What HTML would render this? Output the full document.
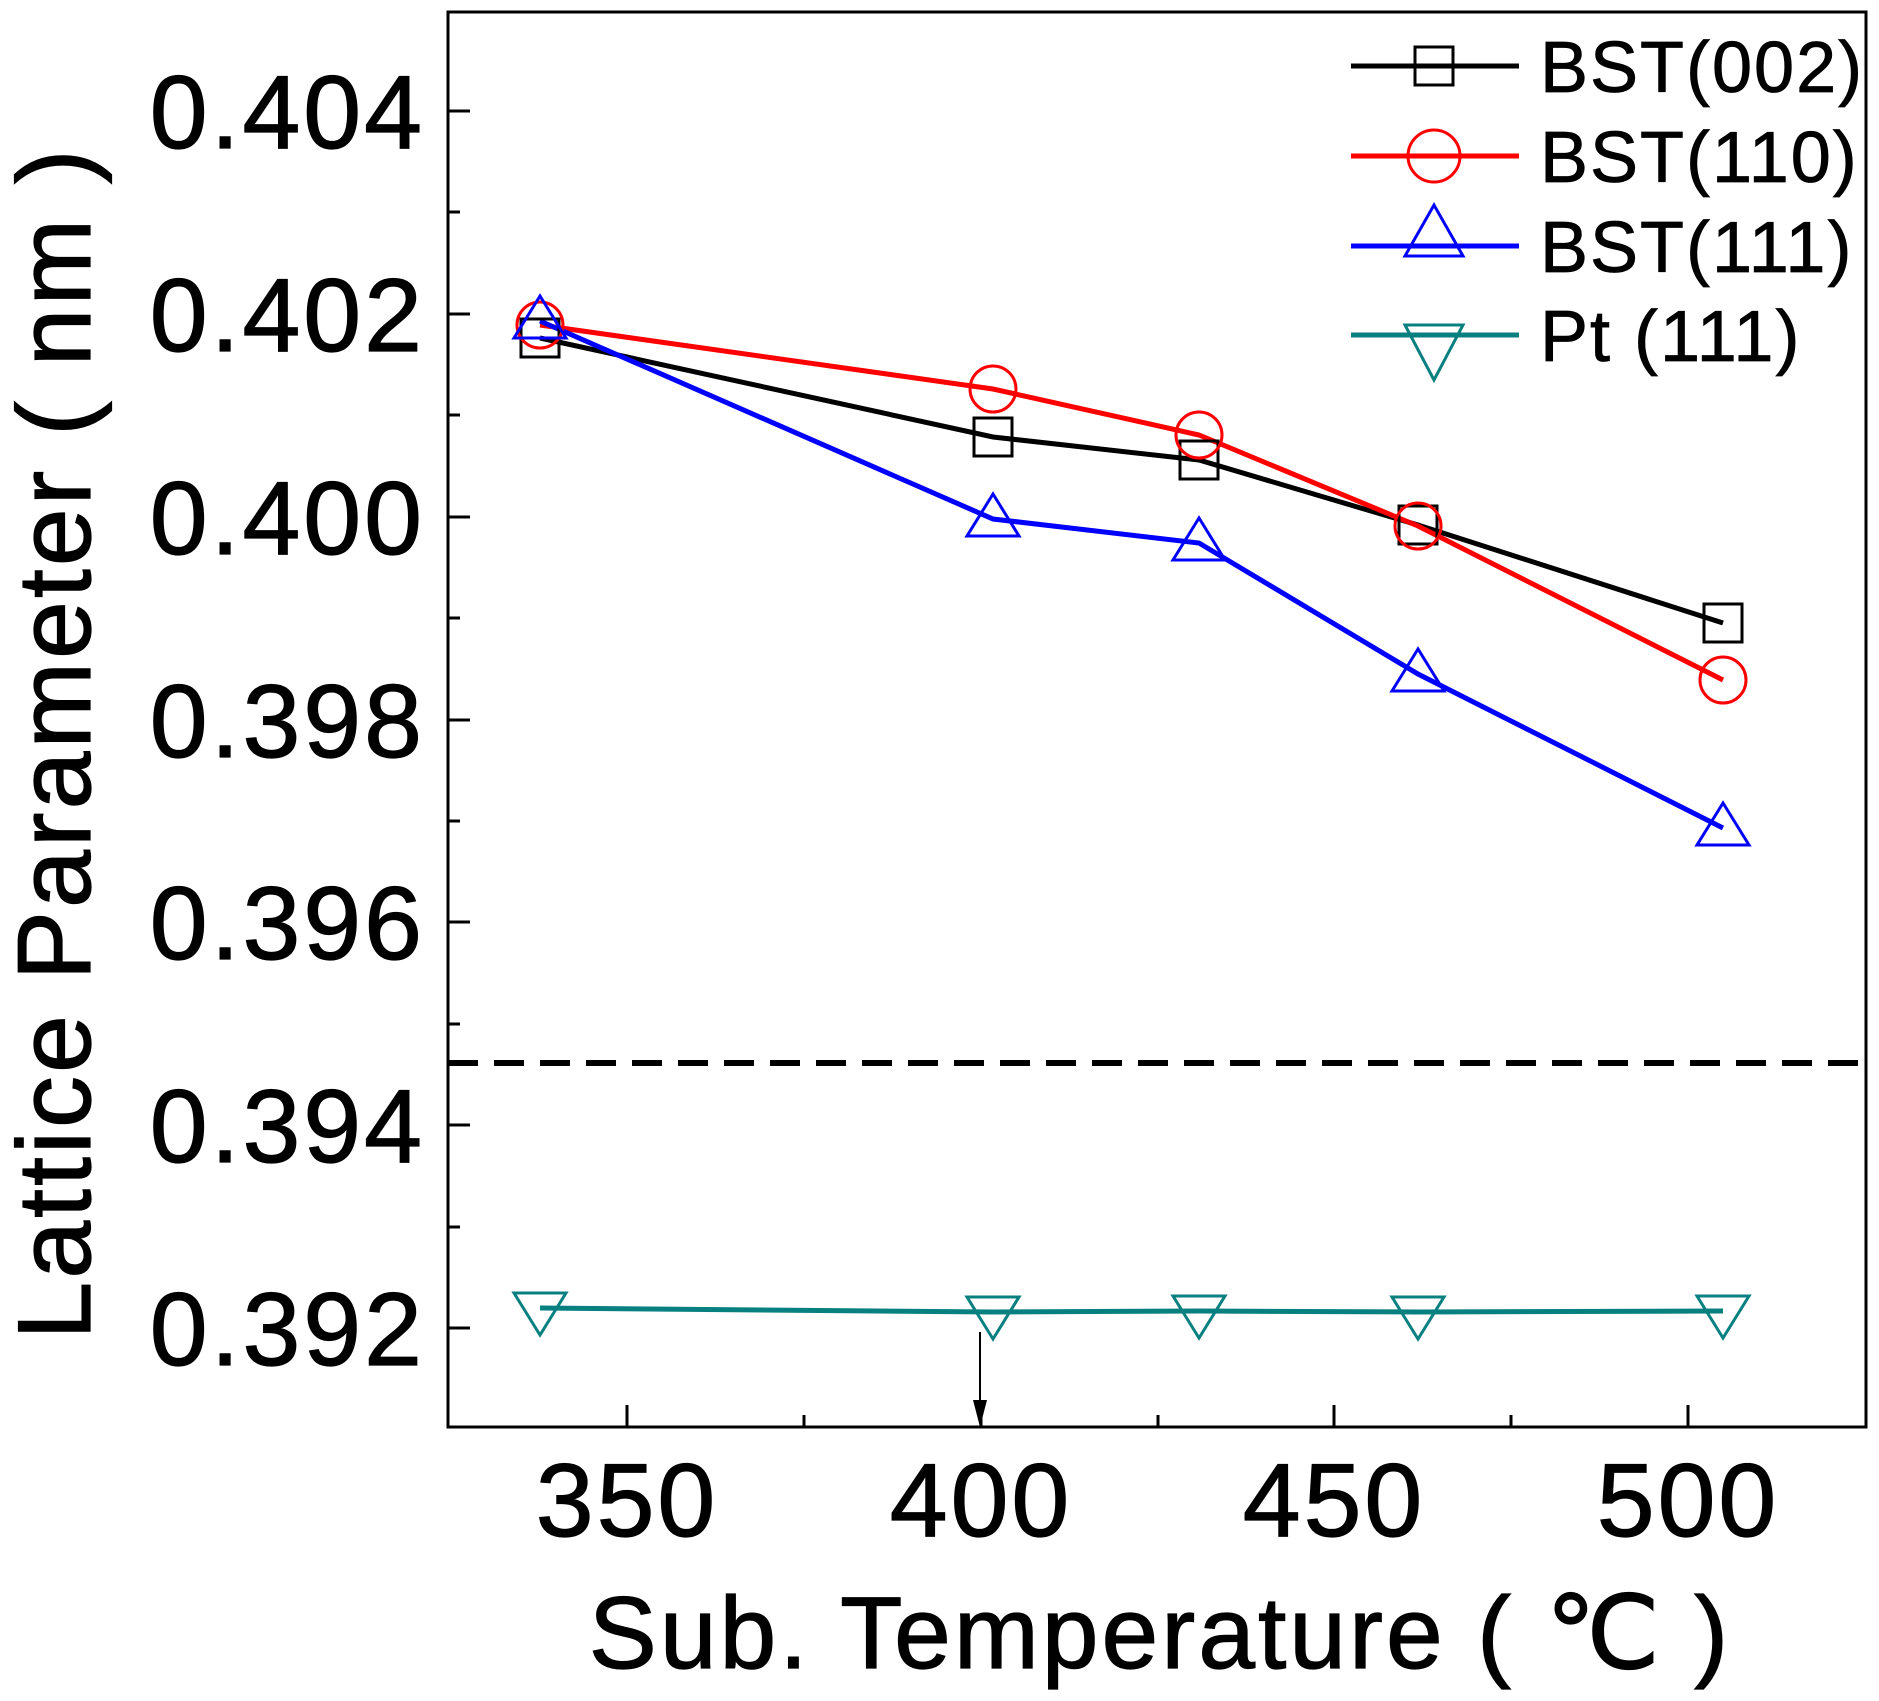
<!DOCTYPE html>
<html><head><style>body{margin:0;background:#fff}svg{display:block}</style></head><body>
<svg width="1879" height="1701" xmlns="http://www.w3.org/2000/svg" font-family="Liberation Sans, Arial, sans-serif">
<rect x="448" y="12" width="1418" height="1415" fill="none" stroke="#000" stroke-width="3"/>
<g stroke="#000" stroke-width="3">
<line x1="448" y1="111" x2="470" y2="111"/><line x1="448" y1="314" x2="470" y2="314"/><line x1="448" y1="517" x2="470" y2="517"/><line x1="448" y1="720" x2="470" y2="720"/><line x1="448" y1="922" x2="470" y2="922"/><line x1="448" y1="1125" x2="470" y2="1125"/><line x1="448" y1="1328" x2="470" y2="1328"/>
<line x1="448" y1="212" x2="460" y2="212"/><line x1="448" y1="415" x2="460" y2="415"/><line x1="448" y1="618" x2="460" y2="618"/><line x1="448" y1="821" x2="460" y2="821"/><line x1="448" y1="1024" x2="460" y2="1024"/><line x1="448" y1="1227" x2="460" y2="1227"/>
<line x1="627" y1="1427" x2="627" y2="1405"/><line x1="981" y1="1427" x2="981" y2="1405"/><line x1="1334" y1="1427" x2="1334" y2="1405"/><line x1="1688" y1="1427" x2="1688" y2="1405"/>
<line x1="804" y1="1427" x2="804" y2="1415"/><line x1="1158" y1="1427" x2="1158" y2="1415"/><line x1="1511" y1="1427" x2="1511" y2="1415"/>
</g>
<g stroke="#000" stroke-width="1.2">
<g font-size="104" text-anchor="end" letter-spacing="3">
<text x="425" y="148">0.404</text><text x="425" y="351">0.402</text><text x="425" y="554">0.400</text><text x="425" y="757">0.398</text><text x="425" y="959">0.396</text><text x="425" y="1162">0.394</text><text x="425" y="1365">0.392</text>
</g>
<g font-size="104" text-anchor="middle" letter-spacing="3">
<text x="627" y="1536">350</text><text x="981" y="1536">400</text><text x="1334" y="1536">450</text><text x="1688" y="1536">500</text>
</g>
<text x="1160" y="1668" font-size="102" text-anchor="middle" letter-spacing="3">Sub. Temperature ( ℃ )</text>
<text transform="translate(90,743) rotate(-90)" font-size="104" text-anchor="middle" letter-spacing="3">Lattice Parameter ( nm )</text>
</g>
<line x1="448" y1="1063" x2="1866" y2="1063" stroke="#000" stroke-width="6" stroke-dasharray="30,16"/>
<line x1="980" y1="1332" x2="980" y2="1410" stroke="#000" stroke-width="2"/>
<polygon points="973,1400 987,1400 980,1427" fill="#000"/>
<g fill="none" stroke-width="5">
<polyline stroke="#000" points="540,338 993,437 1199,460 1418,525 1723,623"/>
<polyline stroke="#f00" points="540,325 993,389 1199,435 1418,526 1723,680"/>
<polyline stroke="#00f" points="540,321 993,519 1199,543 1418,674 1723,828"/>
<polyline stroke="#088080" points="540,1308 993,1312 1199,1311 1418,1312 1723,1311"/>
</g>
<g fill="none" stroke-width="3">
<g stroke="#000"><rect x="521" y="319" width="38" height="38"/><rect x="974" y="418" width="38" height="38"/><rect x="1180" y="441" width="38" height="38"/><rect x="1399" y="506" width="38" height="38"/><rect x="1704" y="604" width="38" height="38"/></g>
<g stroke="#f00"><circle cx="540" cy="325" r="23"/><circle cx="993" cy="389" r="23"/><circle cx="1199" cy="435" r="23"/><circle cx="1418" cy="526" r="23"/><circle cx="1723" cy="680" r="23"/></g>
<g stroke="#00f"><polygon points="540,296 514,338 566,338"/><polygon points="993,494 967,536 1019,536"/><polygon points="1199,518 1173,560 1225,560"/><polygon points="1418,649 1392,691 1444,691"/><polygon points="1723,803 1697,845 1749,845"/></g>
<g stroke="#088080"><polygon points="540,1335 514,1293 566,1293"/><polygon points="993,1339 967,1297 1019,1297"/><polygon points="1199,1338 1173,1296 1225,1296"/><polygon points="1418,1339 1392,1297 1444,1297"/><polygon points="1723,1338 1697,1296 1749,1296"/></g>
</g>
<g stroke-width="5" fill="none">
<line x1="1351" y1="66" x2="1519" y2="66" stroke="#000"/><rect x="1415" y="47" width="38" height="38" stroke="#000" stroke-width="3"/>
<line x1="1351" y1="156" x2="1519" y2="156" stroke="#f00"/><circle cx="1434" cy="156" r="26" stroke="#f00" stroke-width="3"/>
<line x1="1351" y1="246" x2="1519" y2="246" stroke="#00f"/><polygon points="1434,205 1405,256 1463,256" stroke="#00f" stroke-width="3"/>
<line x1="1351" y1="335" x2="1519" y2="335" stroke="#088080"/><polygon points="1434,380 1405,325 1463,325" stroke="#088080" stroke-width="3"/>
</g>
<g font-size="72" stroke="#000" stroke-width="0.8" letter-spacing="2">
<text x="1540" y="92">BST(002)</text><text x="1540" y="182">BST(110)</text><text x="1540" y="272">BST(111)</text><text x="1540" y="361">Pt (111)</text>
</g>
</svg>
</body></html>
